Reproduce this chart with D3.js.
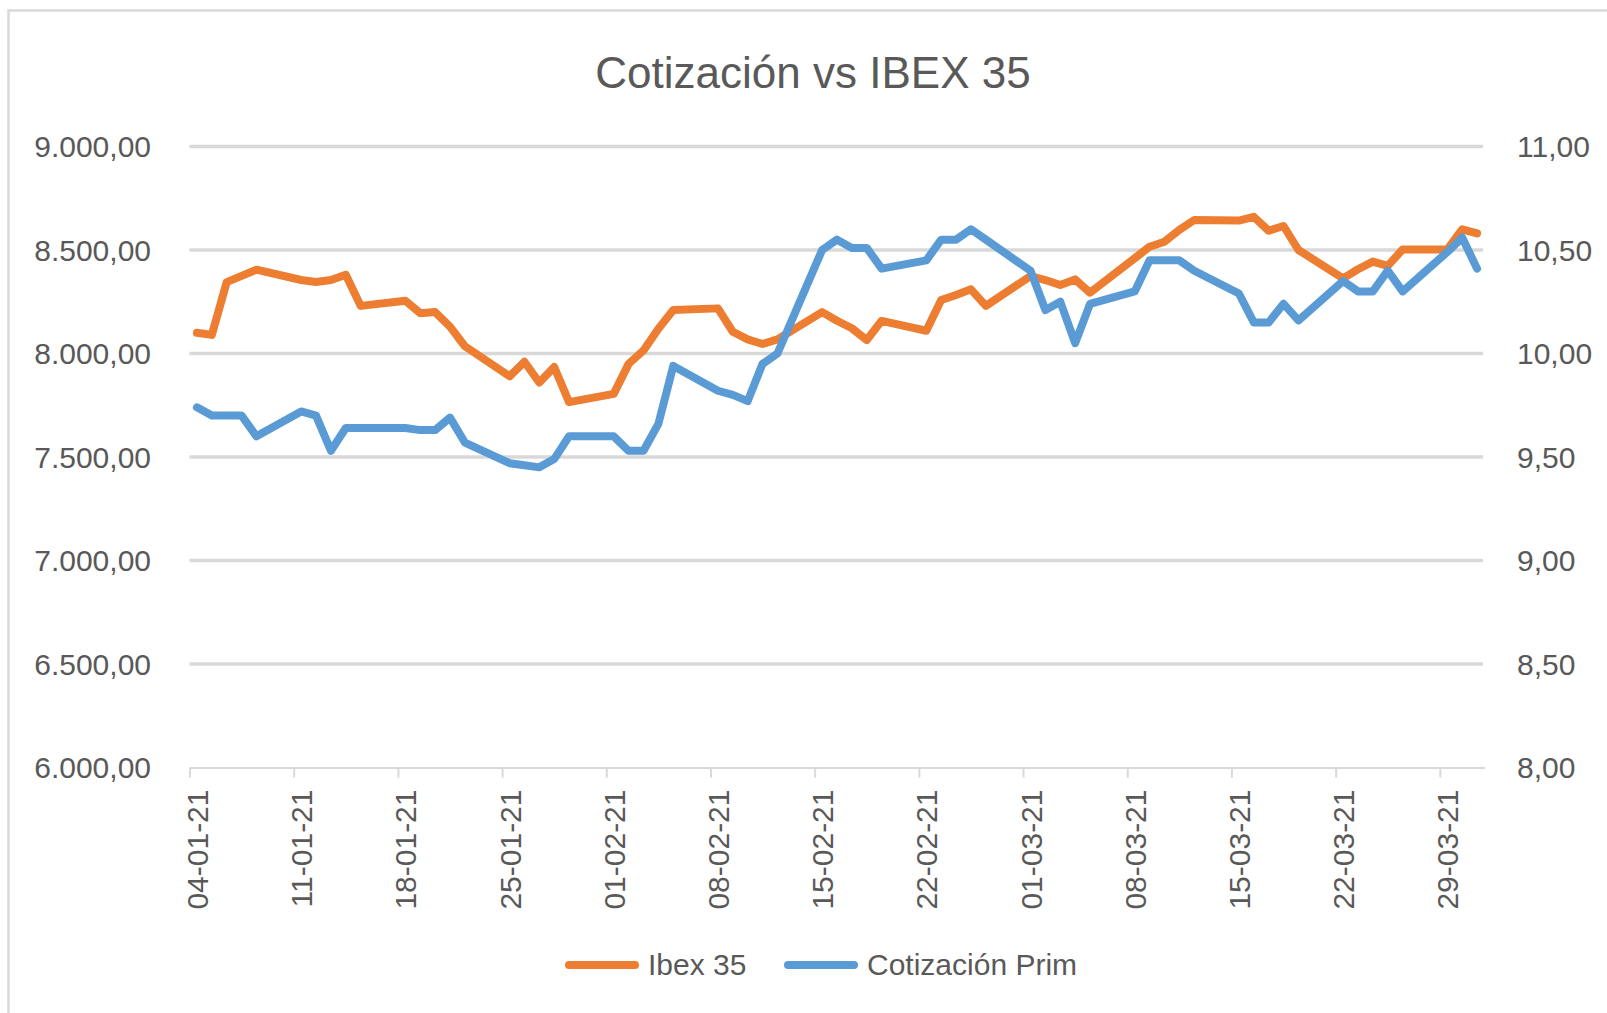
<!DOCTYPE html>
<html>
<head>
<meta charset="utf-8">
<script src="https://cdn.jsdelivr.net/npm/d3@7"></script>
<style>
    body { margin: 0; background: #fff; }
    svg text { font-family: "Liberation Sans", Arial, sans-serif; fill: #595959; }
</style>
</head>
<body>
<svg id="chart" width="1607" height="1013"></svg>
<script>
// trading days, Jan - Mar 2021
const dates = [
    '2021-01-04', '2021-01-05', '2021-01-06', '2021-01-07', '2021-01-08',
    '2021-01-11', '2021-01-12', '2021-01-13', '2021-01-14', '2021-01-15',
    '2021-01-18', '2021-01-19', '2021-01-20', '2021-01-21', '2021-01-22',
    '2021-01-25', '2021-01-26', '2021-01-27', '2021-01-28', '2021-01-29',
    '2021-02-01', '2021-02-02', '2021-02-03', '2021-02-04', '2021-02-05',
    '2021-02-08', '2021-02-09', '2021-02-10', '2021-02-11', '2021-02-12',
    '2021-02-15', '2021-02-16', '2021-02-17', '2021-02-18', '2021-02-19',
    '2021-02-22', '2021-02-23', '2021-02-24', '2021-02-25', '2021-02-26',
    '2021-03-01', '2021-03-02', '2021-03-03', '2021-03-04', '2021-03-05',
    '2021-03-08', '2021-03-09', '2021-03-10', '2021-03-11', '2021-03-12',
    '2021-03-15', '2021-03-16', '2021-03-17', '2021-03-18', '2021-03-19',
    '2021-03-22', '2021-03-23', '2021-03-24', '2021-03-25', '2021-03-26',
    '2021-03-29', '2021-03-30', '2021-03-31'
]

const ibex = [
    8100, 8090, 8345, 8375, 8405,
    8355, 8345, 8355, 8380, 8230,
    8255, 8195, 8200, 8130, 8035,
    7890, 7960, 7860, 7935, 7765,
    7805, 7950, 8015, 8120, 8210,
    8218, 8105, 8068, 8046, 8068,
    8200, 8158, 8122, 8065, 8158,
    8110, 8258, 8283, 8310, 8230,
    8374, 8355, 8331, 8358, 8294,
    8460, 8516, 8540, 8597, 8645,
    8642, 8660, 8593, 8616, 8500,
    8363, 8407, 8444, 8423, 8503,
    8503, 8600, 8580
]

const prim = [
    9.74, 9.70, 9.70, 9.70, 9.60,
    9.72, 9.70, 9.53, 9.64, 9.64,
    9.64, 9.63, 9.63, 9.69, 9.57,
    9.47, 9.46, 9.45, 9.49, 9.60,
    9.60, 9.53, 9.53, 9.66, 9.94,
    9.82, 9.80, 9.77, 9.95, 10.00,
    10.50, 10.55, 10.51, 10.51, 10.41,
    10.45, 10.55, 10.55, 10.60, 10.55,
    10.40, 10.21, 10.25, 10.05, 10.24,
    10.30, 10.45, 10.45, 10.45, 10.40,
    10.29, 10.15, 10.15, 10.24, 10.16,
    10.35, 10.30, 10.30, 10.40, 10.30,
    10.49, 10.56, 10.41
]

const leftTicks = [6000, 6500, 7000, 7500, 8000, 8500, 9000]
const rightTicks = [8, 8.5, 9, 9.5, 10, 10.5, 11]
const seriesNames = ['Ibex 35', 'Cotización Prim']
const title = 'Cotización vs IBEX 35'

const colors = { ibex: '#ED7D31', prim: '#5B9BD5', grid: '#d9d9d9' }

const es = d3.formatLocale({ decimal: ',', thousands: '.', grouping: [3], currency: ['', ' €'] })
const fmtLeft = es.format(',.2f')
const fmtRight = es.format('.2f')
const fmtDate = d3.utcFormat('%d-%m-%y')

const parse = d3.utcParse('%Y-%m-%d')
const days = dates.map(parse)

const plot = { left: 189.5, right: 1484.5, top: 146.5, bottom: 767.5 }

const svg = d3.select('#chart')

// outer chart border (only left/top visible in the capture)
svg.append('rect')
    .attr('x', 8.5).attr('y', 10.5)
    .attr('width', 1640).attr('height', 1040)
    .attr('fill', 'none')
    .attr('stroke', colors.grid)
    .attr('stroke-width', 2.5)

// date axis, every day is a slot and points sit in the middle of it
const x = d3.scaleUtc()
    .domain([days[0], d3.utcDay.offset(days[days.length - 1], 1)])
    .range([plot.left, plot.right])
const mid = d => x(d3.utcHour.offset(d, 12))

const yLeft = d3.scaleLinear().domain([6000, 9000]).range([plot.bottom, plot.top])
const yRight = d3.scaleLinear().domain([8, 11]).range([plot.bottom, plot.top])

// gridlines
svg.append('g')
    .selectAll('line')
    .data(leftTicks.slice(1))
    .join('line')
    .attr('x1', plot.left).attr('x2', plot.right - 1.5)
    .attr('y1', d => yLeft(d)).attr('y2', d => yLeft(d))
    .attr('stroke', colors.grid)
    .attr('stroke-width', 3.5)

svg.append('g')
    .selectAll('text')
    .data(leftTicks)
    .join('text')
    .attr('x', 151)
    .attr('y', d => yLeft(d))
    .attr('dy', '.35em')
    .attr('text-anchor', 'end')
    .style('font-size', '30px')
    .text(d => fmtLeft(d))

svg.append('g')
    .selectAll('text')
    .data(rightTicks)
    .join('text')
    .attr('x', 1517)
    .attr('y', d => yRight(d))
    .attr('dy', '.35em')
    .style('font-size', '30px')
    .text(d => fmtRight(d))

const mondays = d3.utcMonday.range(days[0], d3.utcDay.offset(days[days.length - 1], 1))

const xAxis = svg.append('g')
    .attr('transform', `translate(0,${plot.bottom})`)
    .call(d3.axisBottom(x)
        .tickValues(mondays)
        .tickSize(10)
        .tickSizeOuter(0)
        .tickFormat(fmtDate))

xAxis.select('.domain').attr('stroke', colors.grid).attr('stroke-width', 2)
xAxis.selectAll('.tick line').attr('stroke', colors.grid).attr('stroke-width', 2)
xAxis.selectAll('.tick text')
    .attr('fill', '#595959')
    .style('font-size', '30px')
    .attr('text-anchor', 'end')
    .attr('y', 0)
    .attr('dy', '.35em')
    .attr('transform', d => `translate(${mid(d) - x(d)},22) rotate(-90)`)

const lineLeft = d3.line().x((d, i) => mid(days[i])).y(d => yLeft(d))
const lineRight = d3.line().x((d, i) => mid(days[i])).y(d => yRight(d))

svg.append('path')
    .datum(ibex)
    .attr('d', lineLeft)
    .attr('fill', 'none')
    .attr('stroke', colors.ibex)
    .attr('stroke-width', 8)
    .attr('stroke-linejoin', 'round')
    .attr('stroke-linecap', 'round')

svg.append('path')
    .datum(prim)
    .attr('d', lineRight)
    .attr('fill', 'none')
    .attr('stroke', colors.prim)
    .attr('stroke-width', 8)
    .attr('stroke-linejoin', 'round')
    .attr('stroke-linecap', 'round')

svg.append('text')
    .attr('x', 813)
    .attr('y', 88)
    .attr('text-anchor', 'middle')
    .style('font-size', '44px')
    .text(title)

// legend
const legend = [
    { name: seriesNames[0], color: colors.ibex, x: 569 },
    { name: seriesNames[1], color: colors.prim, x: 788 }
]

const item = svg.append('g')
    .selectAll('g')
    .data(legend)
    .join('g')
    .attr('transform', d => `translate(${d.x},965)`)

item.append('line')
    .attr('x1', 0).attr('x2', 66)
    .attr('stroke', d => d.color)
    .attr('stroke-width', 8)
    .attr('stroke-linecap', 'round')

item.append('text')
    .attr('x', 79)
    .attr('y', 10)
    .style('font-size', '30px')
    .text(d => d.name)
</script>
</body>
</html>
